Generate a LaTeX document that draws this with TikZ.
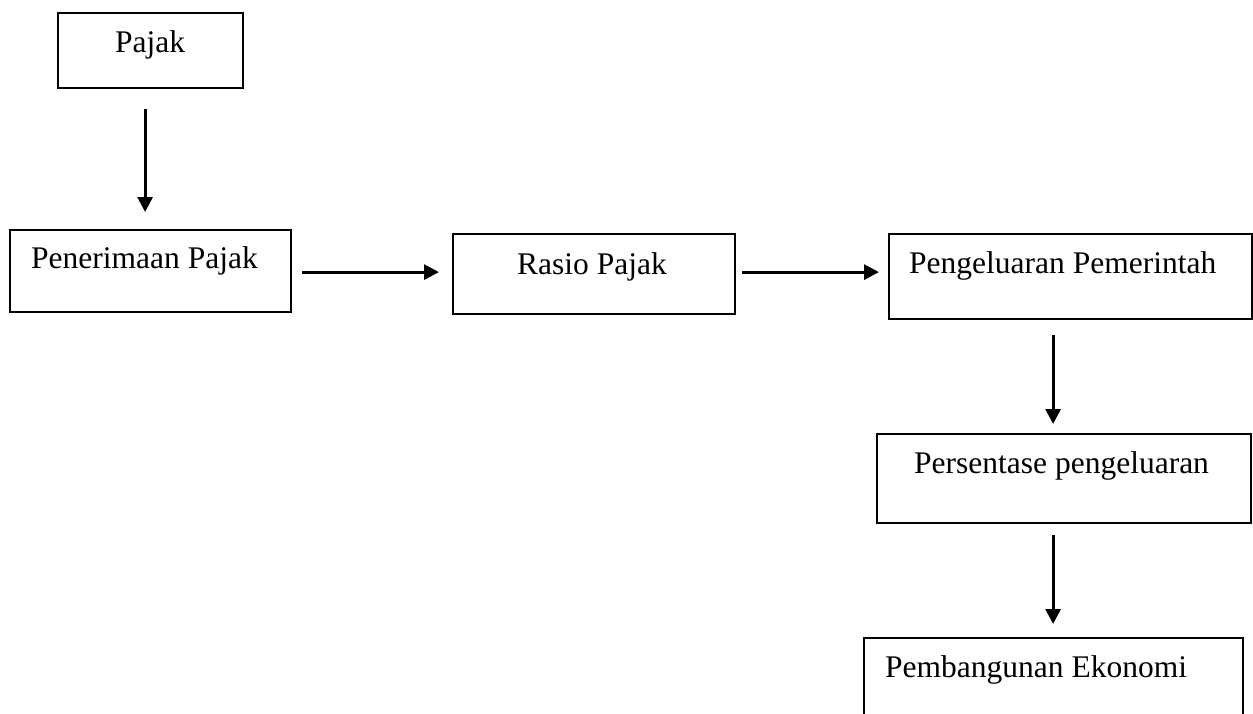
\documentclass[tikz,border=0pt]{standalone}
\usepackage{fontspec}
\setmainfont{Liberation Serif}
\usetikzlibrary{arrows.meta}
\begin{document}
\begin{tikzpicture}[x=1pt,y=-1pt,
  box/.style={draw, line width=2.2pt, inner sep=0pt, anchor=north west},
  lbl/.style={anchor=base west, inner sep=0pt, font=\fontsize{31.5}{38}\selectfont},
  arr/.style={line width=2.8pt, -{Triangle[length=15pt,width=15pt]}}]
\clip (0,0) rectangle (1253,713);
\fill[white] (0,0) rectangle (1253,713);
% boxes
\node[box, minimum width=185pt, minimum height=75pt] (pajak) at (57,12) {};
\node[box, minimum width=281pt, minimum height=82pt] (pen) at (9,229) {};
\node[box, minimum width=282pt, minimum height=80pt] (ras) at (452,233) {};
\node[box, minimum width=363pt, minimum height=85pt] (peng) at (888,233) {};
\node[box, minimum width=374pt, minimum height=89pt] (pers) at (876,433) {};
\node[box, minimum width=379pt, minimum height=110pt] (pemb) at (863,637) {};
% texts
\node[lbl] (tpajak) at (115,52) {Pajak};
\node[lbl] (tpen) at (31,268) {Penerimaan Pajak};
\node[lbl] (tras) at (517,274) {Rasio Pajak};
\node[lbl] (tpeng) at (909,273) {Pengeluaran Pemerintah};
\node[lbl] (tpers) at (914,473) {Persentase pengeluaran};
\node[lbl] (tpemb) at (885,677) {Pembangunan Ekonomi};
% connectors
\draw[arr, shorten <=20pt, shorten >=17pt] ([xshift=-5.5pt]pajak.south) -- ([xshift=-5.5pt]pajak.south |- pen.north);
\draw[arr, shorten <=10pt, shorten >=13pt] ([yshift=-1pt]pen.east) -- ([yshift=-1pt]pen.east -| ras.west);
\draw[arr, shorten <=6pt, shorten >=9pt] ([yshift=2pt]ras.east) -- ([yshift=2pt]ras.east -| peng.west);
\draw[arr, shorten <=15pt, shorten >=9pt] ([xshift=-17.5pt]peng.south) -- ([xshift=-17.5pt]peng.south |- pers.north);
\draw[arr, shorten <=11pt, shorten >=13pt] ([xshift=-11pt]pers.south) -- ([xshift=-11pt]pers.south |- pemb.north);
\end{tikzpicture}
\end{document}
